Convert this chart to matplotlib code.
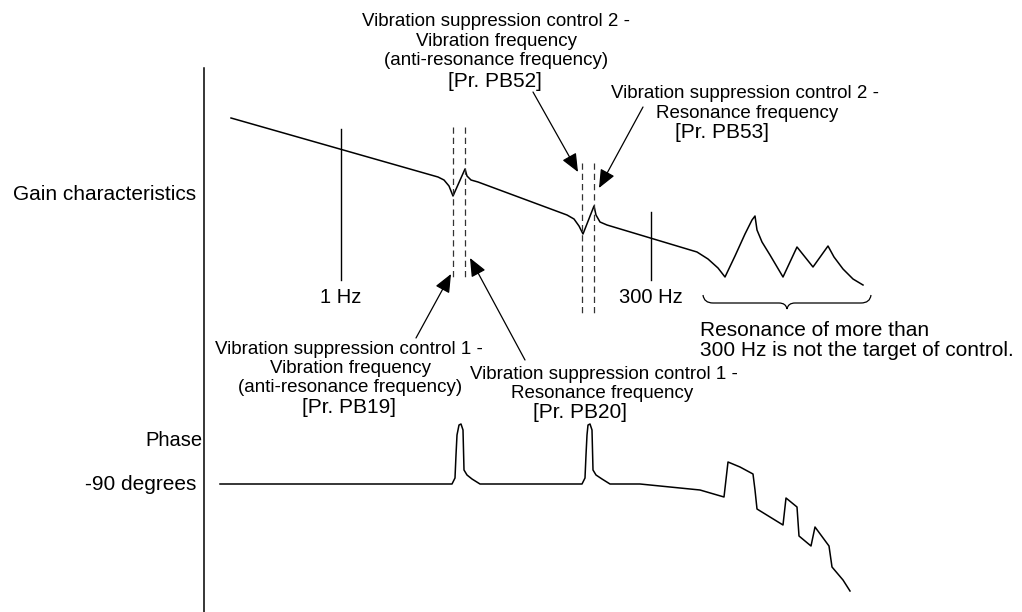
import matplotlib
matplotlib.use("Agg")
import matplotlib.pyplot as plt
from matplotlib.path import Path
from matplotlib.patches import PathPatch

# gain curve (screen units, y grows downward)
gain_x = [231, 438, 444, 449, 453, 465, 467, 471, 478, 567, 574, 579, 583, 594,
          596, 600, 607, 697, 708, 718, 725, 735, 745, 752, 755, 757, 762, 770,
          783, 797, 813, 828, 834, 843, 853, 863]
gain_y = [118, 177, 180, 186, 196, 169, 176, 180, 182, 215, 219, 226, 234, 206,
          215, 222, 225, 252, 259, 268, 277, 256, 234, 220, 216, 230, 242, 255,
          277, 247, 267, 246, 257, 269, 279, 285]

# phase curve
phase_x = [220, 452, 455, 456, 457, 459, 461, 463, 464, 467, 472, 480, 582, 585,
           586, 587, 588, 590, 592, 593, 596, 602, 610, 640, 700, 724, 728, 740,
           753, 755, 757, 783, 786, 797, 799, 811, 815, 829, 832, 843, 850]
phase_y = [484, 484, 478, 455, 435, 425, 424, 430, 470, 475, 479, 484, 484, 478,
           455, 435, 425, 424, 430, 470, 475, 479, 484, 484, 490, 497, 462, 467,
           474, 490, 509, 525, 498, 507, 536, 546, 527, 546, 567, 580, 591]

# frequency markers: x, top, bottom, label
freq_x = [341, 651]
freq_top = [129, 212]
freq_bottom = [280, 280]
freq_labels = ["1 Hz", "300 Hz"]

# vibration suppression dashed markers
dash_x = [453, 465, 582, 594]
dash_top = [127, 127, 163, 163]
dash_bottom = [278, 278, 315, 315]

FONT = "Liberation Sans"


def put(ax, x, yc, s, size, ha="center"):
    # place text so that the middle of the cap height sits on yc
    cap = 0.716 * size * 100 / 72
    ax.text(x, yc + cap / 2, s, ha=ha, va="baseline", fontsize=size,
            family=FONT, color="black")


def arrow(ax, x0, y0, x1, y1):
    ax.annotate("", xy=(x1, y1), xytext=(x0, y0),
                arrowprops=dict(arrowstyle="-|>,head_length=0.7,head_width=0.3",
                                color="black", lw=0.9, mutation_scale=16,
                                shrinkA=0, shrinkB=0))


fig = plt.figure(figsize=(10.22, 6.12), dpi=100)
ax = fig.add_axes([0, 0, 1, 1])
ax.set_xlim(0, 1022)
ax.set_ylim(612, 0)
ax.axis("off")

# vertical axis
ax.plot([204, 204], [68, 612], color="black", lw=1.1)

ax.plot(gain_x, gain_y, color="black", lw=1.1, solid_joinstyle="round")
ax.plot(phase_x, phase_y, color="black", lw=1.1, solid_joinstyle="round")

for x, t, b, lab in zip(freq_x, freq_top, freq_bottom, freq_labels):
    ax.plot([x, x], [t, b], color="black", lw=1.0)
    put(ax, x, 296, lab, 14.5)

for x, t, b in zip(dash_x, dash_top, dash_bottom):
    ax.plot([x, x], [t, b], color="#333333", lw=0.9, linestyle=(0, (5, 3.2)))

# brace under the high frequency resonances
verts = [(703, 295), (704, 303), (713, 303),
         (779, 303), (786, 303), (787, 309),
         (788, 303), (795, 303),
         (861, 303), (870, 303), (871, 295)]
codes = [Path.MOVETO, Path.CURVE3, Path.CURVE3,
         Path.LINETO, Path.CURVE3, Path.CURVE3,
         Path.CURVE3, Path.CURVE3,
         Path.LINETO, Path.CURVE3, Path.CURVE3]
ax.add_patch(PathPatch(Path(verts, codes), facecolor="none", edgecolor="black", lw=0.9))

# arrows to the dashed markers
arrow(ax, 533, 92, 578, 172)
arrow(ax, 643, 107, 599, 188)
arrow(ax, 416, 338, 451, 274)
arrow(ax, 525, 360, 470, 258)

# left side labels
put(ax, 196, 193, "Gain characteristics", 15, ha="right")
put(ax, 174, 439, "Phase", 14.5)
put(ax, 196, 483, "-90 degrees", 15, ha="right")

# vibration suppression control 2 labels
put(ax, 496, 19, "Vibration suppression control 2 -", 13.5)
put(ax, 496, 39, "Vibration frequency", 13.5)
put(ax, 496, 58, "(anti-resonance frequency)", 13.5)
put(ax, 495, 80, "[Pr. PB52]", 15)

put(ax, 745, 91, "Vibration suppression control 2 -", 13.5)
put(ax, 747, 111, "Resonance frequency", 13.5)
put(ax, 722, 131, "[Pr. PB53]", 15)

# vibration suppression control 1 labels
put(ax, 349, 347, "Vibration suppression control 1 -", 13.5)
put(ax, 350, 366, "Vibration frequency", 13.5)
put(ax, 350, 385, "(anti-resonance frequency)", 13.5)
put(ax, 349, 406, "[Pr. PB19]", 15)

put(ax, 604, 372, "Vibration suppression control 1 -", 13.5)
put(ax, 602, 391, "Resonance frequency", 13.5)
put(ax, 580, 411, "[Pr. PB20]", 15)

put(ax, 700, 329, "Resonance of more than", 15, ha="left")
put(ax, 700, 349, "300 Hz is not the target of control.", 15, ha="left")

fig.savefig("out.png", dpi=100, facecolor="white")
